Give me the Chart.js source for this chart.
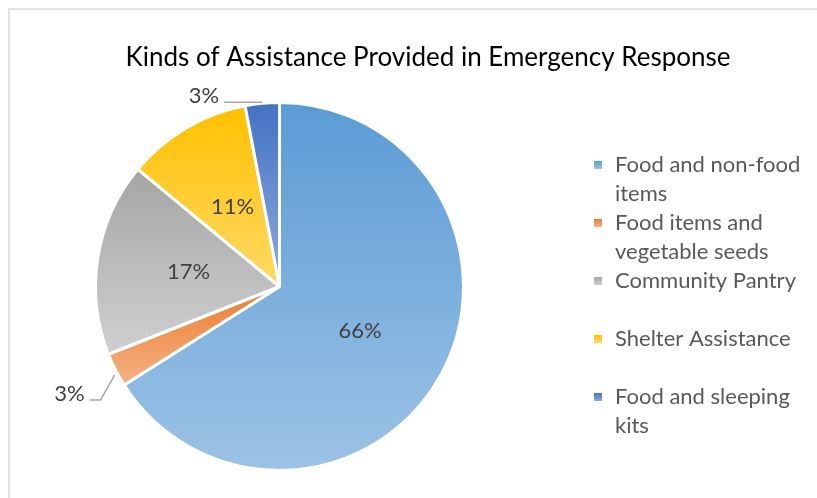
<!DOCTYPE html>
<html>
<head>
<meta charset="utf-8">
<script src="https://cdn.jsdelivr.net/npm/chart.js@4.4.1/dist/chart.umd.min.js"></script>
<style>
  html, body { margin: 0; padding: 0; background: #fff; }
  #wrap { position: relative; width: 817px; height: 498px; }
</style>
</head>
<body>
<div id="wrap"><canvas id="c" width="817" height="498"></canvas></div>
<script>
const TITLE = 'Kinds of Assistance Provided in Emergency Response';
const categories = ['Food and non-food items', 'Food items and vegetable seeds', 'Community Pantry', 'Shelter Assistance', 'Food and sleeping kits'];
const legendLines = [['Food and non-food', 'items'], ['Food items and', 'vegetable seeds'], ['Community Pantry'], ['Shelter Assistance'], ['Food and sleeping', 'kits']];
const values = [66, 3, 17, 11, 3];
const topColors = ['#5B9BD5', '#ED7D31', '#A5A5A5', '#FFC000', '#4472C4'];
const bottomColors = ['#9DC3E6', '#F4B183', '#D0D0D0', '#FFD966', '#8FAADC'];
const FONT = 'Lato, "Open Sans", sans-serif';

function arcBox(el) {
  const pts = [[el.x, el.y]];
  const r = el.outerRadius;
  const a0 = el.startAngle, a1 = el.endAngle;
  pts.push([el.x + r * Math.cos(a0), el.y + r * Math.sin(a0)]);
  pts.push([el.x + r * Math.cos(a1), el.y + r * Math.sin(a1)]);
  for (let k = -4; k <= 8; k++) {
    const a = k * Math.PI / 2;
    if (a > a0 && a < a1) pts.push([el.x + r * Math.cos(a), el.y + r * Math.sin(a)]);
  }
  const ys = pts.map(p => p[1]);
  return [Math.min(...ys), Math.max(...ys)];
}

const gradientPlugin = {
  id: 'grad',
  beforeDatasetsDraw(chart) {
    const ctx = chart.ctx;
    const meta = chart.getDatasetMeta(0);
    meta.data.forEach((el, i) => {
      const [y0, y1] = arcBox(el);
      const g = ctx.createLinearGradient(0, y0, 0, y1);
      g.addColorStop(0, topColors[i]);
      g.addColorStop(1, bottomColors[i]);
      el.options.backgroundColor = g;
    });
  }
};

const decorPlugin = {
  id: 'decor',
  beforeDraw(chart) {
    const ctx = chart.ctx;
    ctx.save();
    ctx.strokeStyle = '#D9D9D9';
    ctx.lineWidth = 1.5;
    ctx.strokeRect(9, 9, 900, 600);
    ctx.restore();
  },
  afterDatasetsDraw(chart) {
    const ctx = chart.ctx;
    const meta = chart.getDatasetMeta(0);
    const total = values.reduce((a, b) => a + b, 0);
    ctx.save();
    // title
    ctx.fillStyle = '#000000';
    ctx.font = '26px ' + FONT;
    ctx.textAlign = 'center';
    ctx.textBaseline = 'middle';
    ctx.fillText(TITLE, 428, 58);

    // data labels
    ctx.font = '22px ' + FONT;
    ctx.fillStyle = '#404040';
    meta.data.forEach((el, i) => {
      const pct = Math.round(values[i] / total * 100) + '%';
      const mid = (el.startAngle + el.endAngle) / 2;
      const r = el.outerRadius;
      if (values[i] / total > 0.05) {
        const p = el.tooltipPosition();
        ctx.textAlign = 'center';
        ctx.fillText(pct, p.x, p.y);
      } else {
        const ex = el.x + r * Math.cos(mid);
        const ey = el.y + r * Math.sin(mid);
        ctx.strokeStyle = '#A6A6A6';
        ctx.lineWidth = 1.5;
        ctx.beginPath();
        if (Math.sin(mid) < 0) {
          ctx.moveTo(ex, ey - 1);
          ctx.lineTo(ex - 38, ey - 1);
          ctx.stroke();
          ctx.textAlign = 'right';
          ctx.fillText(pct, ex - 43, ey - 7);
        } else {
          ctx.moveTo(ex - 1, ey + 5);
          ctx.lineTo(ex - 15, ey + 30);
          ctx.lineTo(ex - 26, ey + 30);
          ctx.stroke();
          ctx.textAlign = 'right';
          ctx.fillText(pct, ex - 31, ey + 24);
        }
      }
    });

    // legend
    ctx.font = '22px ' + FONT;
    ctx.textAlign = 'left';
    const lx = 598, tx = 615, y0 = 165, step = 58, lh = 28.5;
    legendLines.forEach((lines, i) => {
      const y = y0 + i * step;
      const g = ctx.createLinearGradient(0, y - 4, 0, y + 4);
      g.addColorStop(0, topColors[i]);
      g.addColorStop(1, bottomColors[i]);
      ctx.fillStyle = g;
      ctx.fillRect(lx - 4, y - 4, 8, 8);
      ctx.fillStyle = '#595959';
      lines.forEach((t, j) => ctx.fillText(t, tx, y + j * lh));
    });
    ctx.restore();
  }
};

new Chart(document.getElementById('c'), {
  type: 'pie',
  data: {
    labels: categories,
    datasets: [{
      data: values,
      backgroundColor: topColors,
      borderColor: '#ffffff',
      borderWidth: 3
    }]
  },
  options: {
    responsive: false,
    animation: false,
    layout: { padding: { left: 94, right: 352, top: 101, bottom: 26 } },
    plugins: { legend: { display: false }, title: { display: false }, tooltip: { enabled: false } }
  },
  plugins: [gradientPlugin, decorPlugin]
});
</script>
</body>
</html>
